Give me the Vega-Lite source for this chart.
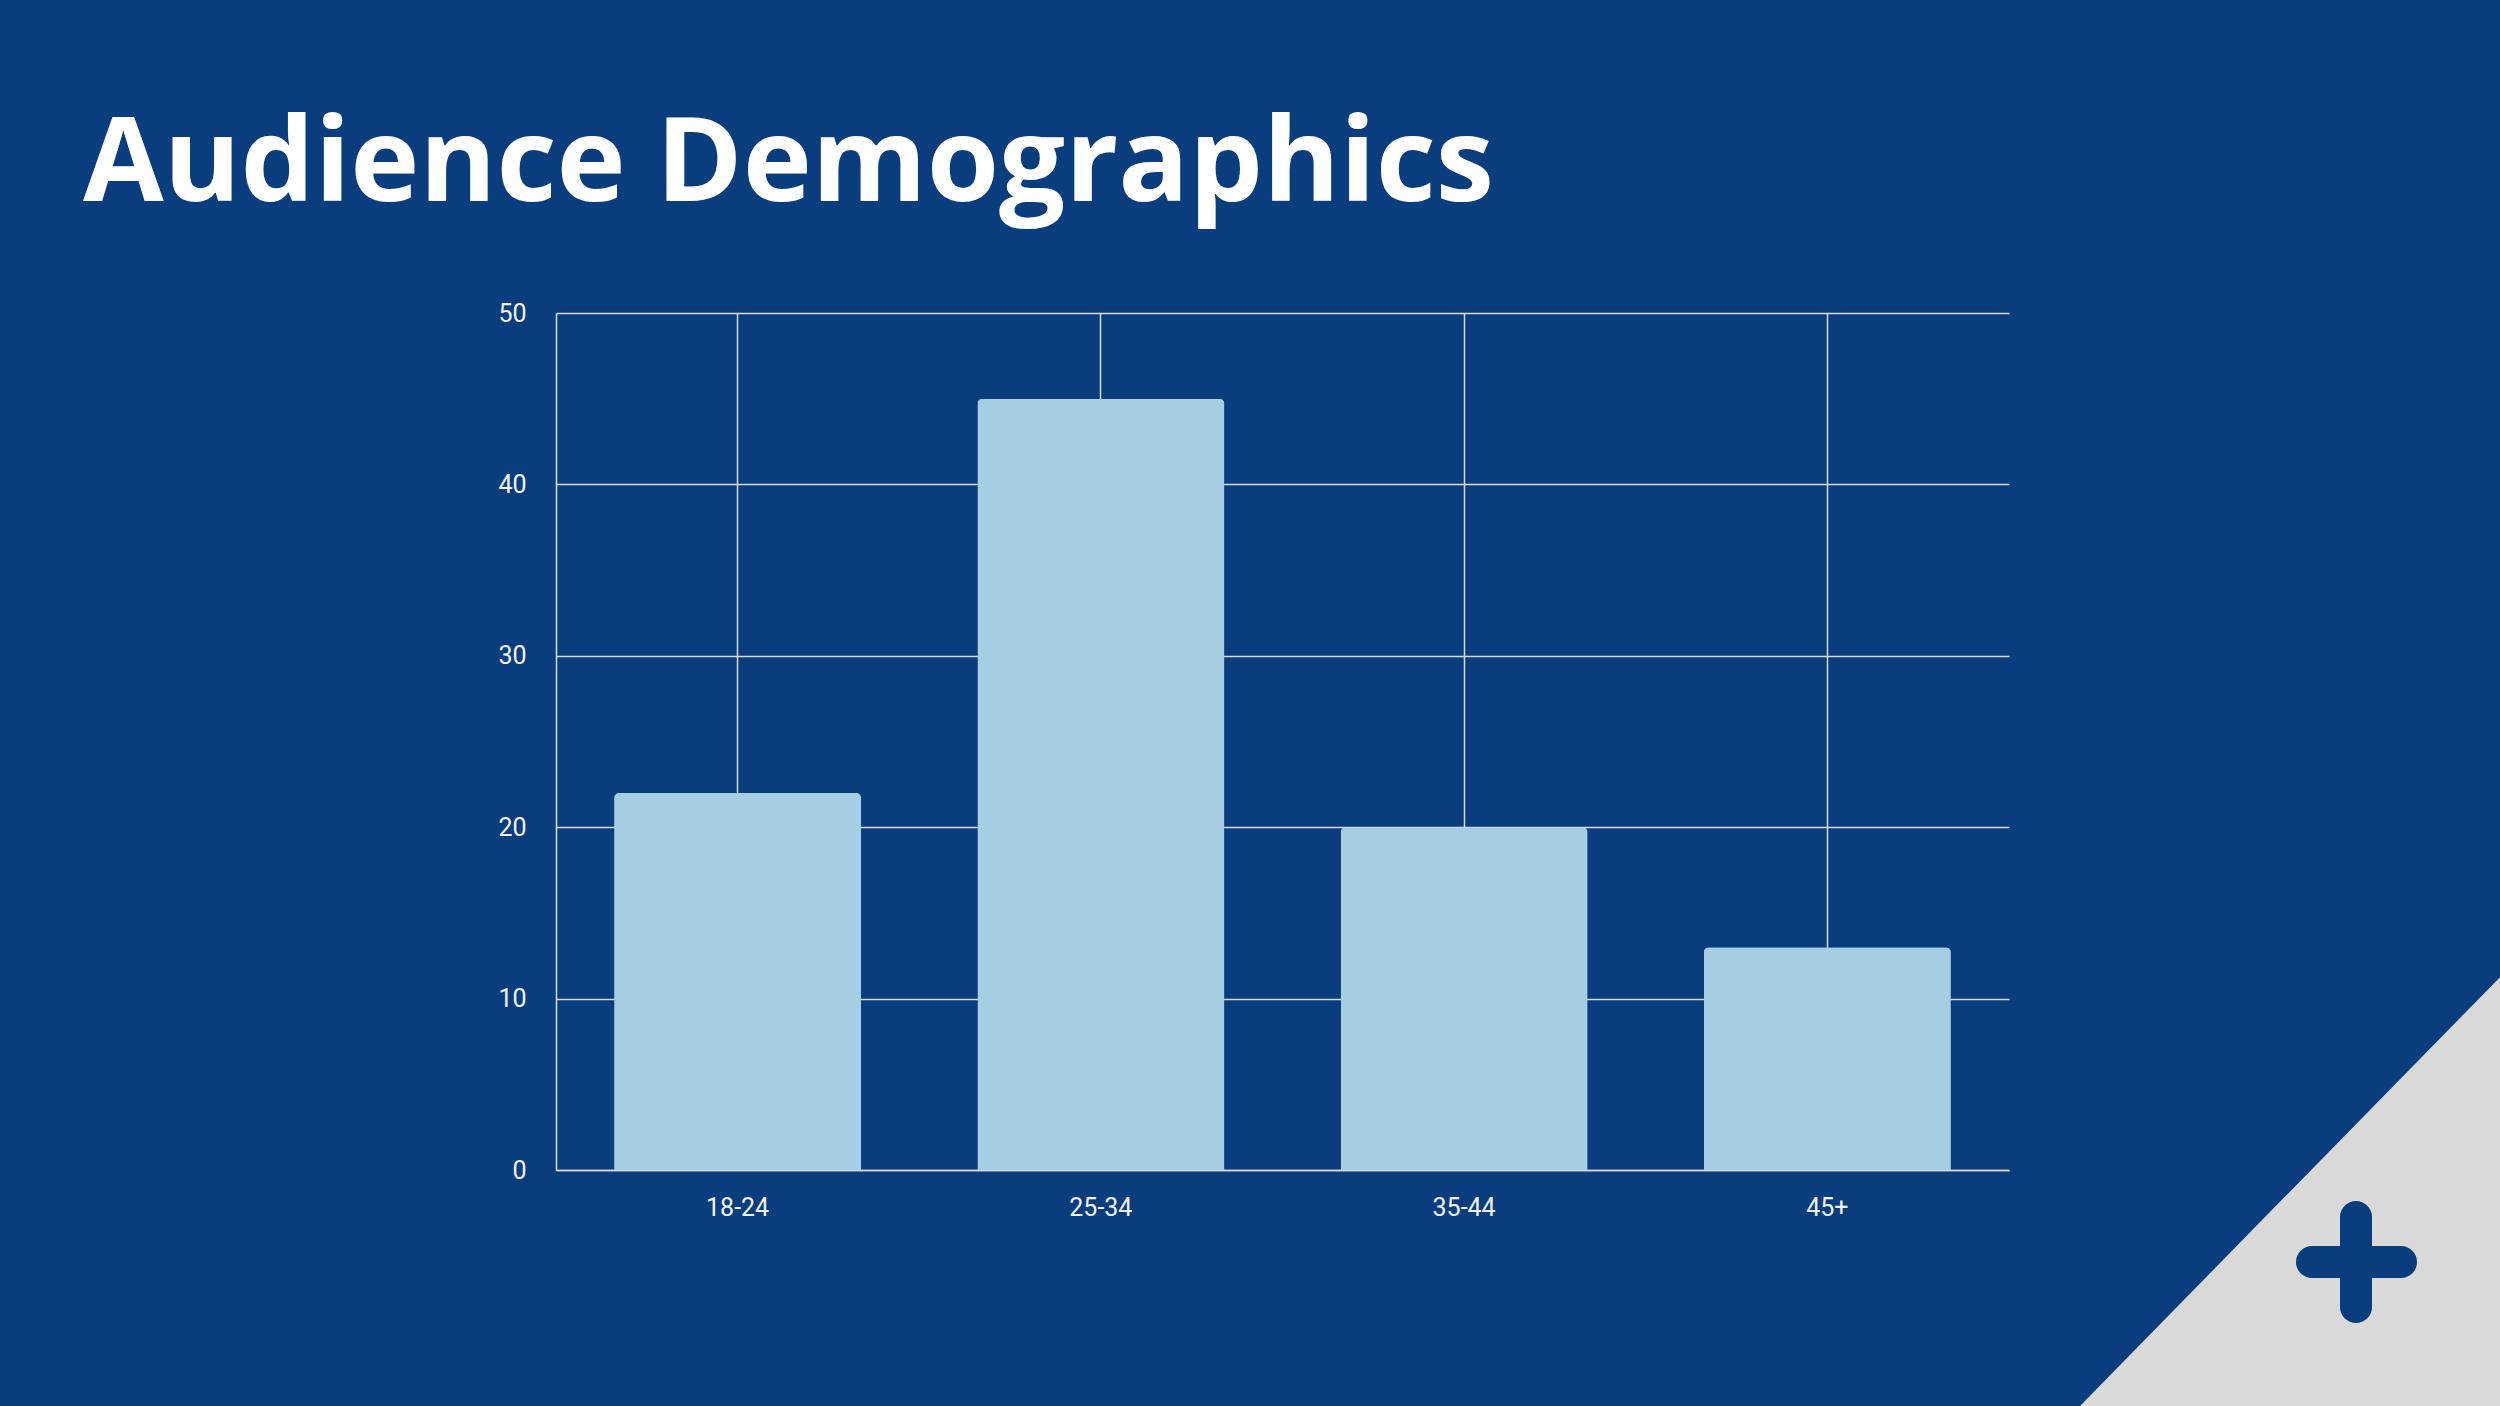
{
  "$schema": "https://vega.github.io/schema/vega-lite/v6.json",
  "width": 1453,
  "height": 857,
  "autosize": {"type": "none"},
  "padding": {"left": 556, "top": 313, "right": 491, "bottom": 236},
  "background": "#0a3d7e",
  "title": {
    "text": "Audience Demographics",
    "anchor": "start",
    "frame": "group",
    "dx": -473,
    "dy": 115,
    "offset": 98,
    "baseline": "alphabetic",
    "font": "Open Sans",
    "fontWeight": "bold",
    "fontSize": 117,
    "color": "#ffffff"
  },
  "layer": [
    {
      "data": {"values": [
        {"sx": 83.2, "sy": 100},
        {"sx": 100, "sy": 69.5}
      ]},
      "mark": {"type": "area", "color": "#d9d9d9", "opacity": 1},
      "encoding": {
        "x": {"field": "sx", "type": "quantitative", "axis": null,
              "scale": {"domain": [22.24, 80.36], "nice": false, "zero": false}},
        "y": {"field": "sy", "type": "quantitative", "axis": null,
              "scale": {"domain": [83.215, 22.262], "nice": false, "zero": false}},
        "y2": {"datum": 100}
      }
    },
    {
      "data": {"values": [
        {"sx": 92.48, "sx2": 96.04, "sy": 89.76, "sy2": 89.76},
        {"sx": 94.24, "sx2": 94.24, "sy": 86.56, "sy2": 92.96}
      ]},
      "mark": {"type": "rule", "color": "#0a3d7e", "strokeWidth": 32, "strokeCap": "round"},
      "encoding": {
        "x": {"field": "sx", "type": "quantitative", "axis": null,
              "scale": {"domain": [22.24, 80.36], "nice": false, "zero": false}},
        "x2": {"field": "sx2"},
        "y": {"field": "sy", "type": "quantitative", "axis": null,
              "scale": {"domain": [83.215, 22.262], "nice": false, "zero": false}},
        "y2": {"field": "sy2"}
      }
    },
    {
      "data": {"values": [
        {"age": "18-24", "share": 22},
        {"age": "25-34", "share": 45},
        {"age": "35-44", "share": 20},
        {"age": "45+", "share": 13}
      ]},
      "mark": {"type": "bar", "color": "#a6cee3", "cornerRadiusTopLeft": 5, "cornerRadiusTopRight": 5},
      "encoding": {
        "x": {
          "field": "age", "type": "nominal", "sort": null,
          "scale": {"paddingInner": 0.32, "paddingOuter": 0.16},
          "axis": {
            "title": null, "labelAngle": 0, "ticks": false, "labelPadding": 25,
            "grid": true, "bandPosition": 0.5
          }
        },
        "y": {
          "field": "share", "type": "quantitative",
          "scale": {"domain": [0, 50], "nice": false},
          "axis": {
            "title": null, "values": [0, 10, 20, 30, 40, 50], "ticks": false,
            "labelPadding": 30, "grid": true
          }
        }
      }
    }
  ],
  "resolve": {"scale": {"x": "independent", "y": "independent"}},
  "config": {
    "view": {"stroke": null},
    "axis": {
      "labelFont": "Roboto",
      "labelFontSize": 25,
      "labelColor": "#f2f2f2",
      "domainColor": "#d9d9d9",
      "domainWidth": 1.5,
      "gridColor": "#d9d9d9",
      "gridWidth": 1.5,
      "gridOpacity": 1
    }
  }
}
